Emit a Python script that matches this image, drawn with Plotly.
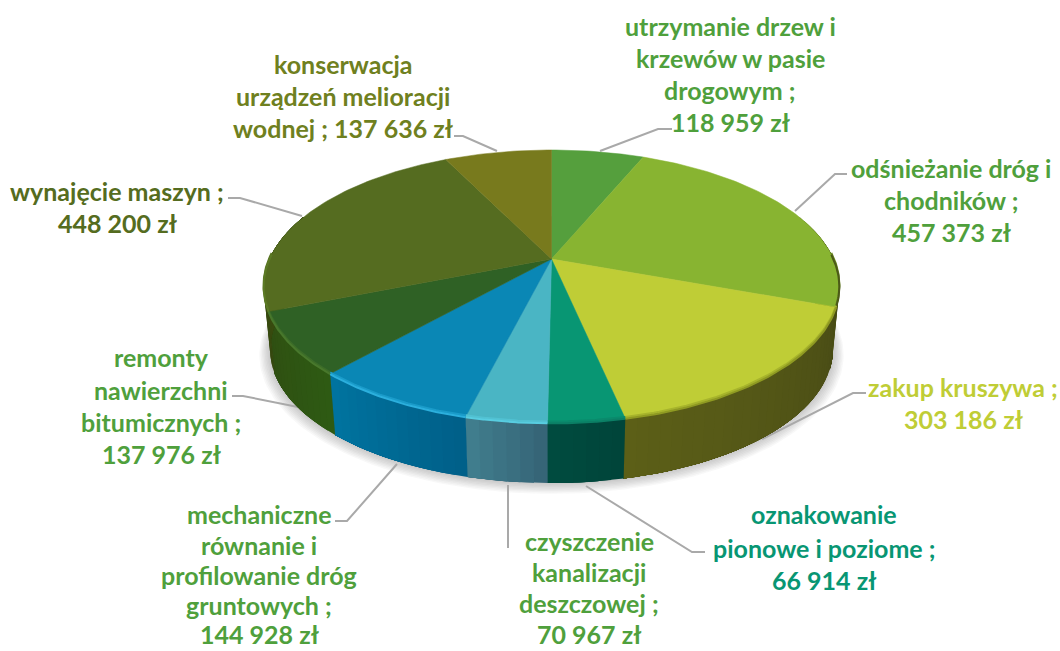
import numpy as np
import plotly.graph_objects as go

# ---- data (clockwise from 12 o'clock) ----
categories = [
    "utrzymanie drzew i\nkrzewów w pasie\ndrogowym",
    "odśnieżanie dróg i\nchodników",
    "zakup kruszywa",
    "oznakowanie\npionowe i poziome",
    "czyszczenie\nkanalizacji\ndeszczowej",
    "mechaniczne\nrównanie i\nprofilowanie dróg\ngruntowych",
    "remonty\nnawierzchni\nbitumicznych",
    "wynajęcie maszyn",
    "konserwacja\nurządzeń melioracji\nwodnej",
]
values = [118959, 457373, 303186, 66914, 70967, 144928, 137976, 448200, 137636]
value_on_same_line = [False, False, False, False, False, False, False, False, True]

# ---- styles ----
top_colors = ["#559F3D", "#88B431", "#BFCD36", "#089673", "#4AB5C4", "#0A87B5", "#2F6125", "#556C20", "#787A1D"]
label_colors = ["#4FA03C", "#4FA03C", "#BFCD36", "#089673", "#4FA03C", "#4FA03C", "#4FA03C", "#556C20", "#6F8020"]
wall_colors = [
    ("#3F4A14", "#3F4A14"), ("#3A4210", "#4A4E14"), ("#4A4D16", "#5C5F17"),
    ("#00443A", "#004C3F"), ("#356375", "#417F8F"), ("#005F88", "#0074A0"),
    ("#2E5A13", "#2F4F12"), ("#36480F", "#3A4E10"), ("#3F4A14", "#3F4A14"),
]
rim_colors = ["#559F3D", "#4C5A18", "#8F9A22", "#0B7F65", "#58CDE0", "#2BAFDD", "#48782C", "#5C7A25", "#787A1D"]
label_centers_x = [730, 951, 963, 824, 589, 259, 161, 117, 343]
label_line_y = [
    [26, 58, 90, 122], [168, 200, 232], [387, 419], [514, 548, 580],
    [541, 572, 603, 634], [514, 545, 575, 605, 634], [357, 390, 422, 454],
    [191, 223], [64, 96, 128],
]
leaders = [
    [(600, 151), (658, 129), (672, 129)],
    [(795, 211), (835, 174), (847, 174)],
    [(762, 439), (853, 393), (866, 393)],
    [(586, 486), (692, 552), (705, 552)],
    [(508, 485), (508, 548)],
    [(397, 464), (347, 521), (335, 521)],
    [(298, 407), (243, 396), (232, 396)],
    [(302, 216), (240, 198), (228, 198)],
    [(497, 151), (463, 136), (454, 136)],
]

# ---- perspective model of the pie disc ----
CX, CY, R, K, P = 551.5, 259.0, 282.0, 131.0, 0.2015
T, VY = 0.0226, 3078.0


def top_rim(th):
    d = 1 + P * np.cos(th)
    return CX + R * np.sin(th) / d, CY - K * np.cos(th) / d


def bottom_rim(th):
    x, y = top_rim(th)
    return x + (CX - x) * T, y + (VY - y) * T


def hex_rgb(h):
    return np.array([int(h[i:i + 2], 16) for i in (1, 3, 5)], float)


def mix(a, b, t):
    c = hex_rgb(a) * (1 - t) + hex_rgb(b) * t
    return f"rgb({c[0]:.0f},{c[1]:.0f},{c[2]:.0f})"


fig = go.Figure()


def poly(x, y, color, lw=0.0, lc=None):
    fig.add_trace(go.Scatter(x=list(x), y=list(y), mode="lines", fill="toself", fillcolor=color,
                             line=dict(color=lc or color, width=lw), hoverinfo="skip", showlegend=False))


def line(x, y, color, w):
    fig.add_trace(go.Scatter(x=list(x), y=list(y), mode="lines", line=dict(color=color, width=w),
                             hoverinfo="skip", showlegend=False))


fractions = np.array(values, float) / sum(values)
edges = np.concatenate([[0], np.cumsum(fractions)]) * 2 * np.pi

# soft shadow under the disc
ths = np.linspace(0, 2 * np.pi, 241)
bx, by = bottom_rim(ths)
bcy = (by.max() + by.min()) / 2
for i in range(8, 0, -1):
    s = 1 + i * 0.0048
    poly(CX + (bx - CX) * s, bcy + (by - bcy) * s + i * 0.7, "rgba(60,60,60,0.035)")

# leader lines
for pts in leaders:
    line([p[0] for p in pts], [p[1] for p in pts], "#A9A9A9", 2)

# side walls: each band covers the rest of its slice, so no seams show
for i, (a, b) in enumerate(zip(edges[:-1], edges[1:])):
    lo, hi = wall_colors[i]
    a2, b2 = max(a, np.radians(70)), min(b, np.radians(290))
    if b2 <= a2:
        continue
    n = max(2, int(np.degrees(b2 - a2) / 2))
    th = np.linspace(a2, b2, n + 1)
    for j in range(n):
        seg = np.linspace(th[j], b2, max(3, n - j + 2))
        x1, y1 = top_rim(seg)
        x2, y2 = bottom_rim(seg[::-1])
        poly(np.r_[x1, x2, x1[0]], np.r_[y1, y2, y1[0]], mix(lo, hi, (j + 0.5) / n))

# top faces
for i, (a, b) in enumerate(zip(edges[:-1], edges[1:])):
    th = np.linspace(a, b, max(8, int(np.degrees(b - a))))
    x, y = top_rim(th)
    poly(np.r_[CX, x, CX], np.r_[CY, y, CY], top_colors[i], lw=0.5)

# bevel along the front rim
for i, (a, b) in enumerate(zip(edges[:-1], edges[1:])):
    lo = max(a, np.radians(88))
    hi = min(b, np.radians(272))
    if hi <= lo:
        continue
    th = np.linspace(lo, hi, 60)
    x, y = top_rim(th)
    line(x, y - 1.5, mix(top_colors[i], rim_colors[i], 0.5), 2)
    line(x, y + 0.3, rim_colors[i], 2)

# labels, one annotation per text line
annotations = []
for i, name in enumerate(categories):
    money = f"{values[i]:,}".replace(",", " ") + " zł"
    text = name + (" ; " if value_on_same_line[i] else " ;\n") + money
    for ln, yy in zip(text.split("\n"), label_line_y[i]):
        annotations.append(dict(x=label_centers_x[i], y=yy, text=ln, xref="x", yref="y", showarrow=False,
                                xanchor="center", yanchor="middle",
                                font=dict(family="Lato", size=25, color=label_colors[i], weight="bold")))

fig.update_layout(
    width=1060, height=651, margin=dict(l=0, r=0, t=0, b=0),
    paper_bgcolor="white", plot_bgcolor="white", showlegend=False,
    xaxis=dict(range=[0, 1060], visible=False, fixedrange=True),
    yaxis=dict(range=[651, 0], visible=False, fixedrange=True),
    annotations=annotations,
)
fig.write_html("out.html", config=dict(displayModeBar=False),
               post_script="document.body.style.margin='0';document.documentElement.style.overflow='hidden';")
